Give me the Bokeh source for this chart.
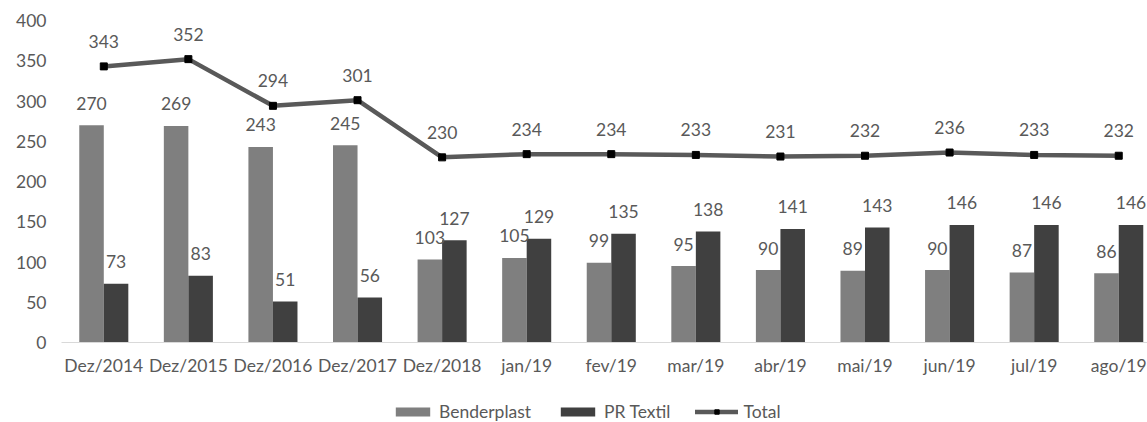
import numpy as np
from bokeh.plotting import figure
from bokeh.layouts import column
from bokeh.models import Range1d, FixedTicker, Legend, LegendItem, ColumnDataSource
from bokeh.core.properties import value
from bokeh.embed import file_html
from bokeh.resources import INLINE

categories = ["Dez/2014", "Dez/2015", "Dez/2016", "Dez/2017", "Dez/2018", "jan/19", "fev/19",
              "mar/19", "abr/19", "mai/19", "jun/19", "jul/19", "ago/19"]
benderplast = [270, 269, 243, 245, 103, 105, 99, 95, 90, 89, 90, 87, 86]
pr_textil = [73, 83, 51, 56, 127, 129, 135, 138, 141, 143, 146, 146, 146]
total = [343, 352, 294, 301, 230, 234, 234, 233, 231, 232, 236, 233, 232]
y_ticks = [0, 50, 100, 150, 200, 250, 300, 350, 400]

FONT = "Lato"
TXT = "#595959"
FS = "17.5px"
C_B = "#7f7f7f"
C_P = "#404040"
C_T = "#595959"

idx = np.arange(len(categories))
bw = 0.29
src = ColumnDataSource(dict(
    x=idx, xb=idx - bw / 2, xp=idx + bw / 2,
    b=benderplast, p=pr_textil, t=total,
    bl=[str(v) for v in benderplast], pl=[str(v) for v in pr_textil], tl=[str(v) for v in total],
))

p = figure(width=1147, height=385, output_backend="svg", toolbar_location=None,
           x_range=Range1d(-0.5, 12.34), y_range=Range1d(0, 400),
           min_border_left=61, min_border_right=0, min_border_top=20, min_border_bottom=43)
p.outline_line_color = None
p.xgrid.grid_line_color = None
p.ygrid.grid_line_color = None

bar_b = dict(x="xb", top="b", width=bw, source=src, fill_color=C_B, line_color=None)
bar_p = dict(x="xp", top="p", width=bw, source=src, fill_color=C_P, line_color=None)
line_t = dict(x="x", y="t", source=src, line_color=C_T, line_width=4.5, line_cap="round")
mark_t = dict(x="x", y="t", source=src, marker="square", size=7, fill_color="black", line_color="black")

p.vbar(**bar_b)
p.vbar(**bar_p)
p.line(**line_t)
p.scatter(**mark_t)

common = dict(text_font=value(FONT), text_font_size=FS, text_color=TXT, text_align="center",
              text_baseline="middle", source=src)
p.text(x="xb", y="b", text="bl", y_offset=-22, **common)
p.text(x="xp", y="p", text="pl", y_offset=-22, **common)
p.text(x="x", y="t", text="tl", y_offset=-25, **common)

p.xaxis.ticker = FixedTicker(ticks=list(idx))
p.xaxis.major_label_overrides = {int(i): c for i, c in zip(idx, categories)}
p.xaxis.axis_line_color = "#d9d9d9"
p.xaxis.axis_line_width = 1
p.xaxis.major_tick_line_color = None
p.xaxis.minor_tick_line_color = None
p.xaxis.major_label_standoff = 6
p.xaxis.major_label_text_font = FONT
p.xaxis.major_label_text_font_size = FS
p.xaxis.major_label_text_color = TXT

p.yaxis.ticker = FixedTicker(ticks=y_ticks)
p.yaxis.axis_line_color = None
p.yaxis.major_tick_line_color = None
p.yaxis.minor_tick_line_color = None
p.yaxis.major_label_standoff = 9
p.yaxis.major_label_text_font = FONT
p.yaxis.major_label_text_font_size = FS
p.yaxis.major_label_text_color = TXT

# legend strip below the chart (its renderers sit outside its visible range)
lg = figure(width=1147, height=37, output_backend="svg", toolbar_location=None,
            x_range=Range1d(1000, 1001), y_range=Range1d(1000, 1001),
            min_border=0, x_axis_location=None, y_axis_location=None)
lg.outline_line_color = None
lg.xgrid.grid_line_color = None
lg.ygrid.grid_line_color = None
l1 = lg.vbar(**bar_b)
l2 = lg.vbar(**bar_p)
l3 = lg.line(**line_t)
l4 = lg.scatter(**mark_t)

legend = Legend(items=[
    LegendItem(label="Benderplast", renderers=[l1]),
    LegendItem(label="PR Textil", renderers=[l2]),
    LegendItem(label="Total", renderers=[l3, l4]),
], orientation="horizontal", location=(330, 0))
legend.label_text_font = FONT
legend.label_text_font_size = FS
legend.label_text_color = TXT
legend.glyph_width = 43
legend.glyph_height = 11
legend.label_height = 18
legend.label_standoff = 5
legend.spacing = 25
legend.padding = 0
legend.margin = 0
legend.border_line_color = None
legend.background_fill_alpha = 0
lg.add_layout(legend, "center")

open("out.html", "w").write(file_html(column(p, lg, spacing=0), INLINE))
